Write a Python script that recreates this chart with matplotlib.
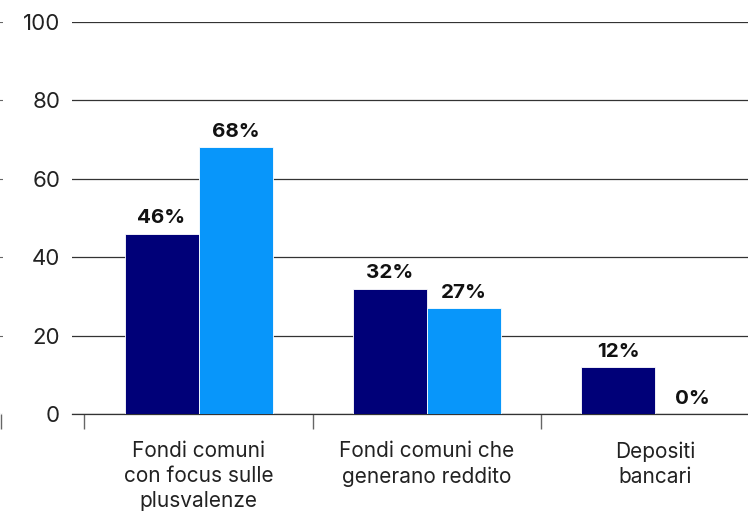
import matplotlib
matplotlib.use("Agg")
import matplotlib.pyplot as plt

categories = ["Fondi comuni\ncon focus sulle\nplusvalenze",
              "Fondi comuni che\ngenerano reddito",
              "Depositi\nbancari"]
series_a = [46, 32, 12]
series_b = [68, 27, 0]
yticks = [0, 20, 40, 60, 80, 100]

plt.rcParams['font.family'] = ['Inter', 'DejaVu Sans']
W, H = 748, 513
fig = plt.figure(figsize=(W/100, H/100), dpi=100)

dark = '#000078'
light = '#0896FA'
grid_c = '#333333'
txt_c = '#222222'

y0, y100 = 414, 22
bottom = (H - y0) / H
height = (y0 - y100) / H

# partial neighbouring panel at the far left
ax0 = fig.add_axes([-75/W, bottom, 78/W, height])
ax0.set_ylim(0, 100)
for y in yticks:
    ax0.axhline(y, color='#666666', lw=0.8)
for s in ax0.spines.values():
    s.set_visible(False)
ax0.set_yticks([])
ax0.set_xticks([0.974])
ax0.set_xticklabels([''])
ax0.tick_params(axis='x', length=11, width=1, color='#666666')
ax0.set_xlim(0, 1)

left = 72 / W
ax = fig.add_axes([left, bottom, 1 - left, height])
x = range(len(categories))
w = 0.324
ax.bar([i - w/2 for i in x], series_a, width=w, color=dark, edgecolor='white', linewidth=0.6, zorder=3)
ax.bar([i + w/2 for i in x], series_b, width=w, color=light, edgecolor='white', linewidth=0.6, zorder=3)

for i in x:
    ax.text(i - w/2, series_a[i] + 2.6, f"{series_a[i]}%", ha='center', va='baseline',
            fontsize=14.8, fontweight='bold', color='#111111')
    ax.text(i + w/2, series_b[i] + 2.6, f"{series_b[i]}%", ha='center', va='baseline',
            fontsize=14.8, fontweight='bold', color='#111111')

ax.set_ylim(0, 100)
ax.set_yticks(yticks)
ax.set_yticklabels([str(v) for v in yticks], fontsize=16, color=txt_c)
ax.tick_params(axis='y', length=0, pad=8.5)
ax.yaxis.grid(True, color=grid_c, lw=0.9, zorder=0)
ax.set_axisbelow(True)

ax.set_xticks(list(x))
ax.set_xticklabels(categories, fontsize=15, color=txt_c, linespacing=1.32)
ax.tick_params(axis='x', which='major', length=0, pad=19.5)
ax.set_xticks([-0.5, 0.5, 1.5, 2.5], minor=True)
ax.tick_params(axis='x', which='minor', length=11, width=1, color='#666666')
ax.set_xlim(-0.554, 2.405)

for s in ['top', 'right', 'left']:
    ax.spines[s].set_visible(False)
ax.spines['bottom'].set_color(grid_c)
ax.spines['bottom'].set_linewidth(0.9)

fig.savefig("out.png", dpi=100)
